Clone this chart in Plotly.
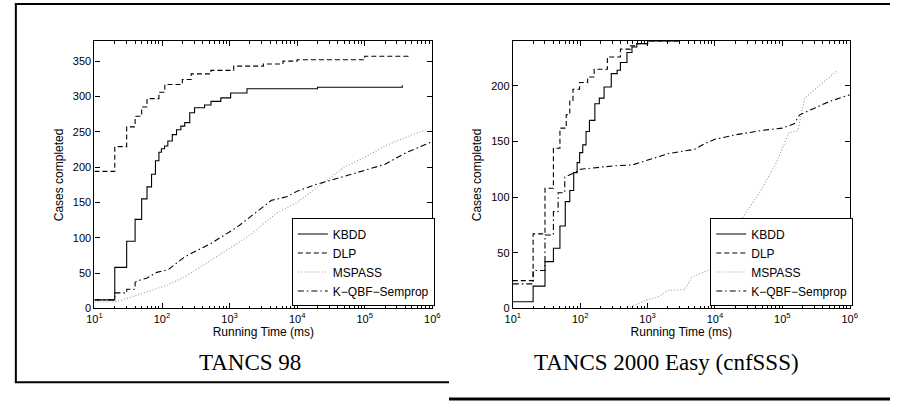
import plotly.graph_objects as go

# ---------------- data: TANCS 98 (left) ----------------
t98_kbdd = [10, 20, 30, 40, 50, 60, 70, 80, 90, 98, 109, 122, 142, 164, 190, 217, 257, 303, 426, 531, 742, 1037, 1808, 20000, 360000]
v98_kbdd = [12, 58, 95, 126, 155, 172, 190, 209, 221, 226, 230, 237, 246, 253, 258, 263, 277, 284, 288, 293, 298, 305, 311, 313, 316]

t98_dlp = [10, 20, 30, 40, 50, 60, 90, 110, 200, 270, 530, 1150, 3160, 6170, 10000, 100000, 440000]
v98_dlp = [194, 229, 257, 272, 285, 297, 306, 317, 324, 332, 337, 343, 346, 350, 352, 357, 361]

t98_msp = [10, 20, 30, 70, 120, 220, 530, 1000, 2000, 5000, 10000, 20000, 50000, 100000, 200000, 400000, 800000]
v98_msp = [9, 9, 14, 25, 33, 45, 68, 85, 104, 135, 150, 172, 200, 214, 230, 242, 253]

t98_kqb = [10, 20, 20, 30, 30, 40, 40, 50, 60, 84, 124, 217, 531, 1290, 4170, 7000, 10000, 20000, 50000, 100000, 200000, 400000, 1000000]
v98_kqb = [12, 12, 22, 22, 27, 27, 37, 41, 43, 51, 55, 73, 92, 115, 153, 158, 166, 176, 187, 195, 204, 220, 236]

# ---------------- data: TANCS 2000 Easy (right) ----------------
t00_kbdd = [10, 20, 30, 40, 50, 60, 70, 80, 90, 98, 109, 122, 137, 165, 192, 226, 289, 353, 395, 494, 586, 693, 1000, 3000]
v00_kbdd = [6, 20, 42, 54, 74, 96, 106, 122, 131, 140, 147, 159, 169, 184, 189, 199, 211, 214, 221, 230, 235, 238, 240, 240]

t00_dlp = [10, 20, 30, 40, 50, 62, 70, 78, 98, 129, 161, 253, 395, 553, 693, 1000, 3000]
v00_dlp = [25, 67, 108, 144, 162, 174, 187, 197, 203, 208, 215, 226, 233, 236, 238, 240, 240]

t00_msp = [500, 700, 1000, 1400, 2000, 3600, 4500, 7000, 10000, 15000, 20000, 30000, 45000, 80000, 125000, 170000, 215000, 380000, 670000]
v00_msp = [0, 4, 8, 10, 16, 17, 28, 33, 36, 50, 70, 88, 103, 130, 158, 160, 189, 202, 214]

t00_kqb = [10, 20, 20, 30, 30, 40, 40, 47, 47, 59, 59, 83, 100, 300, 600, 1000, 2000, 5000, 7000, 10000, 20000, 50000, 100000, 150000, 180000, 300000, 500000, 1000000]
v00_kqb = [22, 22, 34, 34, 66, 66, 87, 87, 104, 104, 118, 122, 125, 128, 129, 133, 139, 143, 148, 152, 156, 160, 162, 166, 174, 180, 186, 192]

series_names = ["KBDD", "DLP", "MSPASS", "K\u2212QBF\u2212Semprop"]
captions = ["TANCS 98", "TANCS 2000 Easy (cnfSSS)"]
x_tick_vals = [10, 100, 1000, 10000, 100000, 1000000]
x_tick_text = ["10<sup>%d</sup>" % k for k in range(1, 7)]
minor_vals = [d * 10 ** k for k in range(1, 6) for d in range(2, 10)]

W, H = 898, 408
SANS = "Liberation Sans, Arial, sans-serif"
SERIF = "Liberation Serif, Times New Roman, serif"

styles = [
    dict(color="black", width=1.1, dash="solid"),
    dict(color="black", width=1.1, dash="5px,3px"),
    dict(color="#9a9a9a", width=1.1, dash="1px,2px"),
    dict(color="black", width=1.1, dash="6px,3px,1.5px,3px"),
]
shapes_ = ["hv", "hv", "linear", "linear"]

fig = go.Figure()

left = [(t98_kbdd, v98_kbdd), (t98_dlp, v98_dlp), (t98_msp, v98_msp), (t98_kqb, v98_kqb)]
right = [(t00_kbdd, v00_kbdd), (t00_dlp, v00_dlp), (t00_msp, v00_msp), (t00_kqb, v00_kqb)]

for i, (t, v) in enumerate(left):
    fig.add_trace(go.Scatter(x=t, y=v, mode="lines", name=series_names[i],
                             line=dict(shape=shapes_[i], **styles[i]),
                             xaxis="x", yaxis="y", legend="legend"))
for i, (t, v) in enumerate(right):
    fig.add_trace(go.Scatter(x=t, y=v, mode="lines", name=series_names[i],
                             line=dict(shape=shapes_[i], **styles[i]),
                             xaxis="x2", yaxis="y2", legend="legend2"))


def xax(domain, anchor):
    return dict(type="log", range=[1, 6], domain=domain, anchor=anchor,
                tickmode="array", tickvals=x_tick_vals, ticktext=x_tick_text,
                ticks="inside", ticklen=5, tickcolor="black", tickwidth=1,
                showline=True, linecolor="black", linewidth=1.2, mirror="ticks",
                showgrid=False, zeroline=False,
                minor=dict(tickmode="array", tickvals=minor_vals, ticks="inside",
                           ticklen=2.5, tickcolor="black", showgrid=False),
                tickfont=dict(family=SANS, size=11, color="black"),
                title=dict(text="Running Time (ms)", font=dict(family=SANS, size=12, color="black"),
                           standoff=2))


def yax(domain, anchor, rng):
    return dict(range=rng, domain=domain, anchor=anchor, dtick=50,
                ticks="inside", ticklen=5, tickcolor="black",
                showline=True, linecolor="black", linewidth=1.2, mirror="ticks",
                showgrid=False, zeroline=False,
                tickfont=dict(family=SANS, size=11, color="black"),
                title=dict(text="Cases completed", font=dict(family=SANS, size=12, color="black"),
                           standoff=6))


ydom = [1 - 313 / H, 1 - 42 / H]
legend_common = dict(bgcolor="white", bordercolor="black", borderwidth=1,
                     font=dict(family=SANS, size=12, color="black"),
                     xanchor="left", yanchor="bottom", tracegroupgap=0, itemwidth=30)

fig.update_layout(
    width=W, height=H,
    margin=dict(l=0, r=0, t=0, b=0),
    paper_bgcolor="white", plot_bgcolor="white",
    xaxis=xax([88 / W, 432 / W], "y"),
    yaxis=yax(ydom, "x", [0, 378]),
    xaxis2=xax([514 / W, 857 / W], "y2"),
    yaxis2=yax(ydom, "x2", [0, 240]),
    legend=dict(x=289 / W, y=1 - 311 / H, **legend_common),
    legend2=dict(x=715 / W, y=1 - 311 / H, **legend_common),
    annotations=[
        dict(text=captions[0], x=246 / W, y=1 - 368 / H, xref="paper", yref="paper",
             showarrow=False, font=dict(family=SERIF, size=23, color="black"),
             xanchor="center", yanchor="middle"),
        dict(text=captions[1], x=670 / W, y=1 - 368 / H, xref="paper", yref="paper",
             showarrow=False, font=dict(family=SERIF, size=23, color="black"),
             xanchor="center", yanchor="middle"),
    ],
    shapes=[
        dict(type="line", xref="paper", yref="paper", x0=7 / W, x1=1, y0=1 - 4 / H, y1=1 - 4 / H,
             line=dict(color="black", width=2)),
        dict(type="line", xref="paper", yref="paper", x0=8 / W, x1=8 / W, y0=1 - 388 / H, y1=1 - 3 / H,
             line=dict(color="black", width=2)),
        dict(type="line", xref="paper", yref="paper", x0=7 / W, x1=449 / W, y0=1 - 388 / H, y1=1 - 388 / H,
             line=dict(color="black", width=2)),
        dict(type="line", xref="paper", yref="paper", x0=449 / W, x1=1, y0=1 - 405 / H, y1=1 - 405 / H,
             line=dict(color="black", width=3)),
    ],
)

fig.write_html("out.html", config={"displayModeBar": False},
               post_script="document.body.style.margin='0px';document.body.style.overflow='hidden';")
